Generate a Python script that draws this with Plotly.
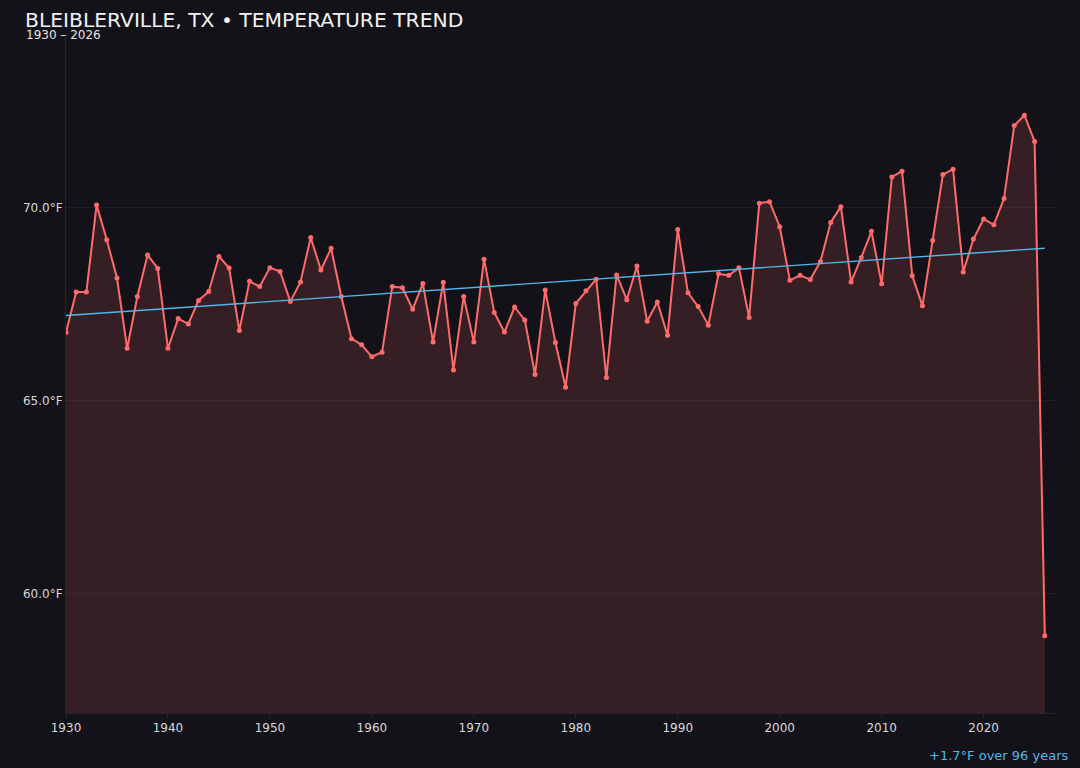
import numpy as np
import plotly.graph_objects as go

# yearly mean temperature
years = list(range(1930, 2027))
temps = [
    66.77, 67.82, 67.82, 70.07, 69.17, 68.18, 66.36, 67.70, 68.78, 68.43,
    66.36, 67.13, 66.99, 67.60, 67.83, 68.74, 68.44, 66.82, 68.10, 67.96,
    68.45, 68.35, 67.57, 68.08, 69.23, 68.39, 68.95, 67.70, 66.61, 66.45,
    66.14, 66.26, 67.96, 67.93, 67.37, 68.04, 66.52, 68.07, 65.80, 67.70,
    66.52, 68.67, 67.29, 66.78, 67.43, 67.09, 65.68, 67.87, 66.51, 65.35,
    67.52, 67.85, 68.15, 65.60, 68.26, 67.62, 68.49, 67.06, 67.56, 66.70,
    69.44, 67.80, 67.44, 66.96, 68.29, 68.25, 68.45, 67.16, 70.12, 70.16,
    69.51, 68.12, 68.25, 68.14, 68.61, 69.62, 70.03, 68.08, 68.71, 69.39,
    68.03, 70.80, 70.95, 68.24, 67.46, 69.15, 70.86, 71.00, 68.34, 69.19,
    69.71, 69.56, 70.24, 72.13, 72.40, 71.72, 58.91,
]
y_ticks = [60, 65, 70]
x_ticks = [1930, 1940, 1950, 1960, 1970, 1980, 1990, 2000, 2010, 2020]

title = "BLEIBLERVILLE, TX • TEMPERATURE TREND"
subtitle = "1930 – 2026"

# linear trend
slope, icpt = np.polyfit(years, temps, 1)
trend_x = [years[0], years[-1]]
trend_y = [icpt + slope * x for x in trend_x]
change = trend_y[1] - trend_y[0]
span = years[-1] - years[0]

bg = "#131218"
line_col = "#ff6b6b"
trend_col = "#52b6ea"

W, H = 1080, 768
ml, mr, mt, mb = 66, 25, 38, 55

fig = go.Figure()
fig.add_trace(go.Scatter(
    x=years, y=temps, mode="lines+markers",
    line=dict(color=line_col, width=2),
    marker=dict(size=5, color=line_col),
    fill="tozeroy", fillcolor="rgba(255,107,107,0.15)",
    showlegend=False,
))
fig.add_trace(go.Scatter(
    x=trend_x, y=trend_y, mode="lines",
    line=dict(color=trend_col, width=1.4),
    showlegend=False,
))


def px(x, y_top):
    # pixel position (from top-left) -> paper coords
    return (x - ml) / (W - ml - mr), (H - y_top - mb) / (H - mt - mb)


tx, ty = px(23, 20)
sx, sy = px(24, 35)
ax, ay = px(1070, 756)

fig.update_layout(
    width=W, height=H,
    paper_bgcolor=bg, plot_bgcolor=bg,
    margin=dict(l=ml, r=mr, t=mt, b=mb),
    font=dict(family="DejaVu Sans", color="#e6e6e6", size=12),
    xaxis=dict(
        range=[1930, 2027], tickvals=x_ticks, showgrid=False,
        showline=True, linecolor="#26252c", linewidth=1,
        ticks="outside", tickcolor="#26252c", ticklen=4,
        tickfont=dict(size=12, color="#d8d8d8"), zeroline=False,
    ),
    yaxis=dict(
        range=[min(temps) - 2, max(temps) + 2], tickvals=y_ticks,
        ticktext=[f"{v:.1f}°F" for v in y_ticks],
        showgrid=True, gridcolor="rgba(255,255,255,0.05)",
        showline=True, linecolor="#26252c", linewidth=1,
        tickfont=dict(size=12, color="#d8d8d8"), zeroline=False,
    ),
    annotations=[
        dict(text=title, x=tx, y=ty, xref="paper", yref="paper",
             showarrow=False, xanchor="left", yanchor="middle",
             font=dict(size=20.3, color="#f2f2f2")),
        dict(text=subtitle, x=sx, y=sy, xref="paper", yref="paper",
             showarrow=False, xanchor="left", yanchor="middle",
             font=dict(size=12, color="#e6e6e6")),
        dict(text=f"+{change:.1f}°F over {span} years", x=ax, y=ay,
             xref="paper", yref="paper", showarrow=False,
             xanchor="right", yanchor="middle",
             font=dict(size=13, color=trend_col)),
    ],
)

fig.write_html("out.html", config={"displayModeBar": False},
               post_script="document.body.style.margin='0';")
